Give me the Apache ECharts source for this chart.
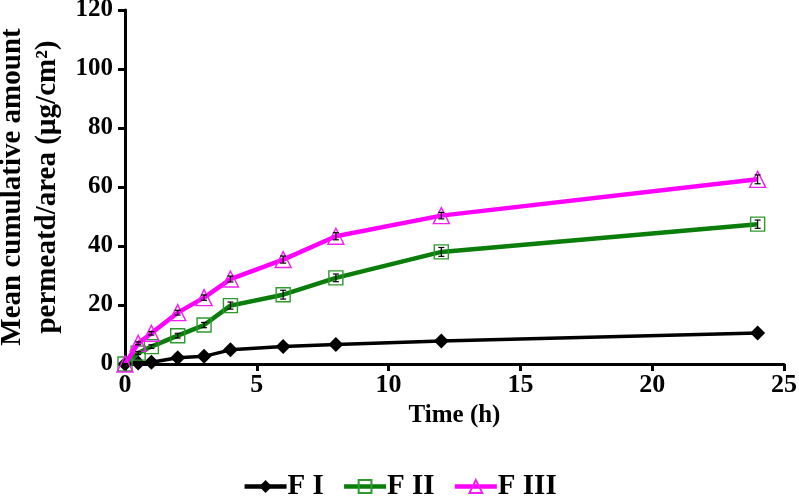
<!DOCTYPE html>
<html>
<head>
    <meta charset="utf-8">
    <title>Permeation profile</title>
    <script src="https://cdn.jsdelivr.net/npm/echarts@6/dist/echarts.min.js"></script>
    <style>
        html, body { margin: 0; padding: 0; background: #fff; }
        #chart { width: 799px; height: 498px; }
    </style>
</head>
<body>
<div id="chart"></div>
<script>
    // sampling times (h)
    var times = [0, 0.5, 1, 2, 3, 4, 6, 8, 12, 24];
    // mean cumulative amount (ug/cm2)
    var f1 = [0, 0.3, 0.6, 2.1, 2.6, 4.8, 5.9, 6.6, 7.8, 10.5];
    var f2 = [0, 3.7, 5.9, 9.6, 13.2, 19.8, 23.5, 29.2, 38.0, 47.4];
    var f3 = [0, 7.0, 10.4, 17.4, 22.5, 28.8, 35.4, 43.3, 50.3, 62.6];
    // error bars (sd)
    var f2Err = [0, 0.5, 0.6, 0.8, 0.9, 1.2, 1.5, 1.3, 1.5, 1.4];
    var f3Err = [0, 0.5, 0.6, 0.8, 0.9, 1.0, 1.2, 1.2, 1.1, 1.5];
    var xTicks = [0, 5, 10, 15, 20, 25];
    var yTicks = [0, 20, 40, 60, 80, 100, 120];

    var fontFam = '"Liberation Serif", "Times New Roman", serif';
    var chart = echarts.init(document.getElementById('chart'));

    function pairs(vals) {
        return times.map(function (t, i) { return [t, vals[i]]; });
    }
    function errData(vals, errs) {
        return times.map(function (t, i) { return [t, vals[i] - errs[i], vals[i] + errs[i]]; });
    }
    function errorRender(params, api) {
        var lo = api.coord([api.value(0), api.value(1)]);
        var hi = api.coord([api.value(0), api.value(2)]);
        var w = 3;
        var st = {stroke: '#000', lineWidth: 1.2};
        return {
            type: 'group',
            children: [
                {type: 'line', shape: {x1: lo[0], y1: lo[1], x2: hi[0], y2: hi[1]}, style: st},
                {type: 'line', shape: {x1: lo[0] - w, y1: lo[1], x2: lo[0] + w, y2: lo[1]}, style: st},
                {type: 'line', shape: {x1: hi[0] - w, y1: hi[1], x2: hi[0] + w, y2: hi[1]}, style: st}
            ]
        };
    }

    var option = {
        backgroundColor: '#fff',
        animation: false,
        grid: {left: 125, right: 15, top: 10, bottom: 134, containLabel: false, outerBoundsMode: 'none'},
        legend: {
            top: 472,
            left: 'center',
            padding: 0,
            itemWidth: 42,
            itemHeight: 16,
            itemGap: 18,
            lineStyle: {width: 4.5},
            data: ['F I', 'F II', 'F III'],
            textStyle: {fontFamily: fontFam, fontWeight: 'bold', fontSize: 29, color: '#000', padding: [0, 0, 0, -4]}
        },
        xAxis: {
            type: 'value',
            min: xTicks[0],
            max: xTicks[xTicks.length - 1],
            interval: 5,
            name: 'Time (h)',
            nameLocation: 'middle',
            nameGap: 34,
            nameTextStyle: {fontFamily: fontFam, fontWeight: 'bold', fontSize: 25, color: '#000'},
            axisLine: {lineStyle: {color: '#000', width: 3}},
            axisTick: {length: 7, lineStyle: {width: 3, color: '#000'}},
            axisLabel: {fontFamily: fontFam, fontWeight: 'bold', fontSize: 26, color: '#000', margin: 8},
            splitLine: {show: false}
        },
        yAxis: {
            type: 'value',
            min: yTicks[0],
            max: yTicks[yTicks.length - 1],
            interval: 20,
            name: 'Mean cumulative amount\npermeatd/area (\u00b5g/cm\u00b2)',
            nameLocation: 'middle',
            nameRotate: 90,
            nameGap: 50,
            nameTextStyle: {fontFamily: fontFam, fontWeight: 'bold', fontSize: 29, color: '#000', lineHeight: 35},
            axisLine: {lineStyle: {color: '#000', width: 3}},
            axisTick: {length: 7, lineStyle: {width: 3, color: '#000'}},
            axisLabel: {fontFamily: fontFam, fontWeight: 'bold', fontSize: 25, color: '#000', margin: 12},
            splitLine: {show: false}
        },
        series: [
            {
                name: 'F I',
                type: 'line',
                data: pairs(f1),
                symbol: 'diamond',
                symbolSize: 15,
                lineStyle: {color: '#000', width: 3.5},
                itemStyle: {color: '#000'},
                z: 3
            },
            {
                name: 'F II',
                type: 'line',
                data: pairs(f2),
                symbol: 'rect',
                symbolSize: 14,
                lineStyle: {color: '#0a7d0a', width: 4.5},
                itemStyle: {color: 'rgba(255,255,255,0)', borderColor: '#2e9a2e', borderWidth: 1.4},
                z: 4
            },
            {
                name: 'F III',
                type: 'line',
                data: pairs(f3),
                symbol: 'triangle',
                symbolSize: 16,
                lineStyle: {color: '#ff00ff', width: 4.5},
                itemStyle: {color: 'rgba(255,255,255,0)', borderColor: '#f020f0', borderWidth: 1.4},
                z: 5
            },
            {
                type: 'custom',
                renderItem: errorRender,
                data: errData(f2, f2Err),
                encode: {x: 0, y: [1, 2]},
                silent: true,
                z: 6
            },
            {
                type: 'custom',
                renderItem: errorRender,
                data: errData(f3, f3Err),
                encode: {x: 0, y: [1, 2]},
                silent: true,
                z: 6
            }
        ]
    };

    chart.setOption(option);
</script>
</body>
</html>
